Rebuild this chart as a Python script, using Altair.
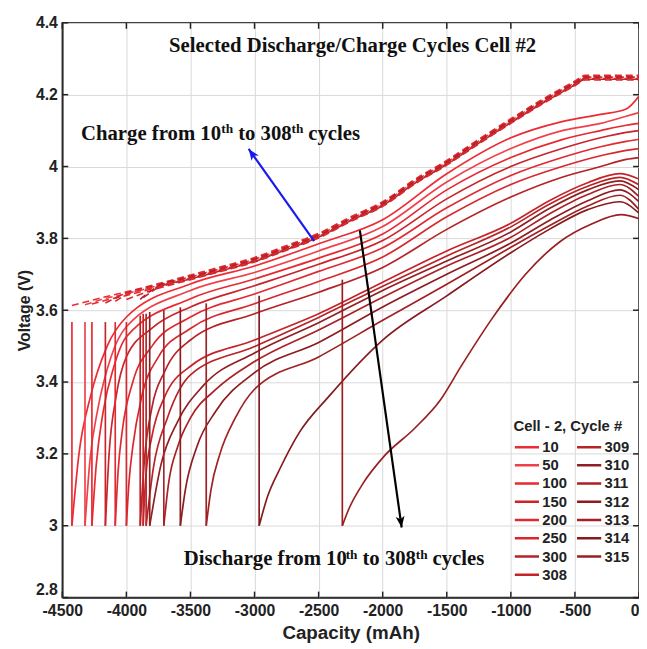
import altair as alt
import pandas as pd

cycles = ["10", "50", "100", "150", "200", "250", "300", "308",
          "309", "310", "311", "312", "313", "314", "315"]
colors = ["#ec2b33", "#f0414a", "#e62a30", "#c9242b", "#e02a30", "#d8282e", "#b52227", "#c42429",
          "#b82326", "#8e1f22", "#a92124", "#8c1c1f", "#a02023", "#861b1e", "#9a1f21"]

# discharge curves (capacity mAh, voltage V)
dis_cap = {
    "10":  [0, -100, -300, -600, -1000, -1500, -2000, -2500, -3000, -3500, -4000, -4150, -4280, -4370, -4425],
    "50":  [0, -100, -300, -600, -1000, -1500, -2000, -2500, -3000, -3500, -4000, -4120, -4220, -4285, -4323],
    "100": [0, -100, -300, -600, -1000, -1500, -2000, -2500, -3000, -3500, -4000, -4100, -4180, -4235, -4269],
    "150": [0, -100, -300, -600, -1000, -1500, -2000, -2500, -3000, -3500, -3800, -4000, -4080, -4135, -4164],
    "200": [0, -100, -300, -600, -1000, -1500, -2000, -2500, -3000, -3500, -3800, -3950, -4030, -4065, -4087],
    "250": [0, -100, -300, -600, -1000, -1500, -2000, -2500, -3000, -3500, -3750, -3880, -3950, -3980, -4000],
    "300": [0, -100, -300, -600, -1000, -1500, -2000, -2500, -3000, -3500, -3700, -3800, -3860, -3892],
    "308": [0, -150, -400, -700, -1000, -1500, -2000, -2500, -3000, -3500, -3700, -3800, -3850, -3869],
    "309": [0, -150, -400, -700, -1000, -1500, -2000, -2500, -3000, -3500, -3680, -3790, -3846],
    "310": [0, -150, -400, -700, -1000, -1500, -2000, -2500, -3000, -3400, -3600, -3730, -3818],
    "311": [0, -150, -400, -700, -1000, -1500, -2000, -2500, -3000, -3300, -3500, -3600, -3670, -3708],
    "312": [0, -150, -400, -700, -1000, -1500, -2000, -2500, -3000, -3300, -3450, -3540, -3579],
    "313": [0, -150, -400, -700, -1000, -1500, -2000, -2500, -3000, -3150, -3270, -3340, -3377],
    "314": [0, -150, -400, -700, -1000, -1500, -2000, -2420, -2650, -2800, -2900, -2964],
    "315": [0, -140, -370, -620, -885, -1140, -1390, -1550, -1754, -1985, -2162, -2260, -2315],
}
dis_volt = {
    "10":  [4.196, 4.160, 4.145, 4.125, 4.080, 3.980, 3.852, 3.785, 3.723, 3.673, 3.581, 3.500, 3.360, 3.200, 3.0],
    "50":  [4.150, 4.140, 4.120, 4.100, 4.050, 3.957, 3.833, 3.765, 3.705, 3.655, 3.554, 3.470, 3.330, 3.180, 3.0],
    "100": [4.120, 4.115, 4.100, 4.075, 4.025, 3.935, 3.812, 3.745, 3.687, 3.632, 3.526, 3.440, 3.320, 3.170, 3.0],
    "150": [4.100, 4.095, 4.080, 4.050, 4.000, 3.910, 3.794, 3.728, 3.668, 3.609, 3.550, 3.470, 3.360, 3.200, 3.0],
    "200": [4.076, 4.070, 4.055, 4.025, 3.975, 3.885, 3.774, 3.708, 3.645, 3.581, 3.500, 3.400, 3.270, 3.150, 3.0],
    "250": [4.050, 4.045, 4.030, 4.000, 3.950, 3.860, 3.748, 3.680, 3.618, 3.549, 3.470, 3.360, 3.220, 3.120, 3.0],
    "300": [4.025, 4.020, 4.000, 3.970, 3.915, 3.825, 3.719, 3.650, 3.590, 3.517, 3.430, 3.330, 3.180, 3.0],
    "308": [3.965, 3.980, 3.955, 3.905, 3.842, 3.765, 3.678, 3.590, 3.517, 3.444, 3.360, 3.250, 3.130, 3.0],
    "309": [3.949, 3.970, 3.945, 3.895, 3.832, 3.751, 3.667, 3.580, 3.499, 3.420, 3.300, 3.160, 3.0],
    "310": [3.935, 3.960, 3.935, 3.883, 3.818, 3.737, 3.655, 3.565, 3.481, 3.390, 3.290, 3.170, 3.0],
    "311": [3.916, 3.950, 3.922, 3.868, 3.803, 3.723, 3.636, 3.545, 3.457, 3.380, 3.300, 3.220, 3.120, 3.0],
    "312": [3.902, 3.935, 3.905, 3.850, 3.787, 3.700, 3.609, 3.510, 3.426, 3.320, 3.220, 3.100, 3.0],
    "313": [3.880, 3.920, 3.890, 3.835, 3.775, 3.672, 3.572, 3.470, 3.380, 3.300, 3.200, 3.100, 3.0],
    "314": [3.870, 3.902, 3.880, 3.825, 3.760, 3.640, 3.517, 3.360, 3.260, 3.160, 3.080, 3.0],
    "315": [3.855, 3.866, 3.840, 3.790, 3.700, 3.580, 3.443, 3.350, 3.270, 3.195, 3.113, 3.050, 3.0],
}
# voltage reached by the vertical jump at the end of each discharge
rest_volt = [3.567, 3.567, 3.567, 3.567, 3.567, 3.567, 3.585, 3.59,
             3.59, 3.595, 3.60, 3.608, 3.619, 3.64, 3.685]

# charge (dashed) curves for cycles 10..308: start point + common path (+ small offset per cycle)
charge_cycles = ["10", "50", "100", "150", "200", "250", "300", "308"]
charge_start_volt = [3.613, 3.615, 3.617, 3.620, 3.625, 3.630, 3.630, 3.635]
charge_offset = [0.0, -0.005, -0.010, -0.003, -0.008, -0.013, -0.006, -0.011]
env_cap = [-4400, -4200, -4000, -3750, -3500, -3250, -3000, -2750, -2500, -2250, -2000,
           -1750, -1500, -1250, -1000, -750, -500, -420, -250, 0]
env_volt = [3.618, 3.634, 3.651, 3.674, 3.698, 3.722, 3.747, 3.780, 3.814, 3.860, 3.902,
            3.964, 4.017, 4.076, 4.133, 4.188, 4.238, 4.254, 4.254, 4.254]

x_ticks = [-4500, -4000, -3500, -3000, -2500, -2000, -1500, -1000, -500, 0]
y_ticks = [2.8, 3.0, 3.2, 3.4, 3.6, 3.8, 4.0, 4.2, 4.4]

# annotation text pieces
ann_text = ["Charge from 10", "th", "to 308", "th", "cycles",
            "Discharge from 10", "th", "to 308", "th", "cycles"]
ann_cap = [-4354, -3259, -3128, -2712, -2581, -3552, -2289, -2158, -1742, -1611]
ann_volt = [4.075, 4.092, 4.075, 4.092, 4.075, 2.890, 2.907, 2.890, 2.907, 2.890]
ann_size = [21, 13.5, 21, 13.5, 21, 21, 13.5, 21, 13.5, 21]

title_text = ["Selected Discharge/Charge Cycles Cell #2"]
title_cap = [-2235]
title_volt = [4.32]

arrow_name = ["blue", "black"]
arrow_cap1 = [-2535, -2178]
arrow_volt1 = [3.792, 3.822]
arrow_cap2 = [-3046, -1852]
arrow_volt2 = [4.049, 2.995]
arrow_angle = [324.6, 172.0]
arrow_color = ["#1a1aee", "#000000"]

# ---------------- build tables ----------------
rows = []
for c in cycles:
    for i, (x, y) in enumerate(zip(dis_cap[c], dis_volt[c])):
        rows.append({"cycle": c, "cap": x, "volt": y, "i": i})
dis_df = pd.DataFrame(rows)

vert_df = pd.DataFrame({
    "cycle": cycles,
    "cap": [dis_cap[c][-1] for c in cycles],
    "v0": [dis_volt[c][-1] for c in cycles],
    "v1": rest_volt,
})

crow = []
for c, vs, off in zip(charge_cycles, charge_start_volt, charge_offset):
    c0 = dis_cap[c][-1]
    crow.append({"cycle": c, "cap": c0, "volt": vs, "i": 0})
    k = 1
    for x, y in zip(env_cap, env_volt):
        if x > c0 + 40:
            crow.append({"cycle": c, "cap": x, "volt": y + off, "i": k})
            k += 1
chg_df = pd.DataFrame(crow)

ann_df = pd.DataFrame({"text": ann_text, "cap": ann_cap, "volt": ann_volt, "size": ann_size})
title_df = pd.DataFrame({"text": title_text, "cap": title_cap, "volt": title_volt})
arrow_df = pd.DataFrame({"name": arrow_name, "c1": arrow_cap1, "v1": arrow_volt1,
                         "c2": arrow_cap2, "v2": arrow_volt2, "angle": arrow_angle,
                         "color": arrow_color})
xt_df = pd.DataFrame({"cap": x_ticks})
yt_df = pd.DataFrame({"volt": y_ticks})

W, H = 584, 582
xs = alt.Scale(domain=[-4500, 0], nice=False, zero=False)
ys = alt.Scale(domain=[2.8, 4.4], nice=False, zero=False)
cs = alt.Scale(domain=cycles, range=colors)

X = alt.X("cap:Q", scale=xs, title="Capacity (mAh)",
          axis=alt.Axis(values=x_ticks, labelExpr="'' + datum.value", grid=True,
                        ticks=False, labelFlush=False, labelPadding=5, titlePadding=5,
                        labelAlign={"condition": {"test": "datum.value == 0", "value": "right"},
                                    "value": "center"},
                        labelFontSize=16, titleFontSize=19))
Y = alt.Y("volt:Q", scale=ys, title="Voltage (V)",
          axis=alt.Axis(values=y_ticks, format="~g", grid=True, ticks=False,
                        labelPadding=5, titlePadding=3,
                        labelBaseline={"condition": {"test": "datum.value < 2.9", "value": "bottom"},
                                       "value": "middle"},
                        labelFontSize=16, titleFontSize=16))

color = alt.Color("cycle:N", scale=cs,
                  legend=alt.Legend(title="Cell - 2, Cycle #", orient="none",
                                    legendX=457, legendY=401, columns=2,
                                    symbolType="stroke", symbolSize=600,
                                    symbolStrokeWidth=2.5, symbolDash=[1, 0],
                                    clipHeight=15, rowPadding=2.5, columnPadding=8,
                                    labelOffset=2, padding=0,
                                    labelFont="Liberation Sans", labelFontSize=15,
                                    labelFontWeight="bold", labelColor="#222",
                                    titleFont="Liberation Sans", titleFontSize=15,
                                    titleFontWeight="bold", titleColor="#222",
                                    titlePadding=6))

dis = alt.Chart(dis_df).mark_line(strokeWidth=1.7, interpolate="monotone").encode(
    x=X, y=Y, color=color, detail="cycle:N", order="i:Q")

vert = alt.Chart(vert_df).mark_rule(strokeWidth=1.7).encode(
    x=alt.X("cap:Q", scale=xs), y=alt.Y("v0:Q", scale=ys), y2="v1:Q",
    color=alt.Color("cycle:N", scale=cs, legend=None))

chg = alt.Chart(chg_df).mark_line(strokeWidth=1.6, strokeDash=[7, 4], interpolate="monotone").encode(
    x=alt.X("cap:Q", scale=xs), y=alt.Y("volt:Q", scale=ys),
    color=alt.Color("cycle:N", scale=cs, legend=None),
    detail="cycle:N", order="i:Q")

arrows = alt.Chart(arrow_df).mark_rule(strokeWidth=2.2).encode(
    x=alt.X("c1:Q", scale=xs), y=alt.Y("v1:Q", scale=ys), x2="c2:Q", y2="v2:Q",
    color=alt.Color("color:N", scale=None))
heads = alt.Chart(arrow_df).mark_point(
    shape="M0,0L0.9,2.3L0,1.7L-0.9,2.3Z", filled=True, size=100, opacity=1).encode(
    x=alt.X("c2:Q", scale=xs), y=alt.Y("v2:Q", scale=ys),
    angle=alt.Angle("angle:Q", scale=None),
    color=alt.Color("color:N", scale=None))

ann = alt.Chart(ann_df).mark_text(align="left", baseline="alphabetic",
                                  font="Liberation Serif", fontWeight="bold",
                                  color="#111").encode(
    x=alt.X("cap:Q", scale=xs), y=alt.Y("volt:Q", scale=ys), text="text:N",
    size=alt.Size("size:Q", scale=None))

ttl = alt.Chart(title_df).mark_text(align="center", baseline="alphabetic",
                                    font="Liberation Serif", fontWeight="bold",
                                    fontSize=21, color="#111").encode(
    x=alt.X("cap:Q", scale=xs), y=alt.Y("volt:Q", scale=ys), text="text:N")

# inner tick marks (MATLAB style box)
xt_b = alt.Chart(xt_df).mark_rule(color="#222", strokeWidth=1.5).encode(
    x=alt.X("cap:Q", scale=xs), y=alt.value(H), y2=alt.value(H - 6))
xt_t = alt.Chart(xt_df).mark_rule(color="#222", strokeWidth=1.5).encode(
    x=alt.X("cap:Q", scale=xs), y=alt.value(0), y2=alt.value(6))
yt_l = alt.Chart(yt_df).mark_rule(color="#222", strokeWidth=1.5).encode(
    y=alt.Y("volt:Q", scale=ys), x=alt.value(0), x2=alt.value(6))
yt_r = alt.Chart(yt_df).mark_rule(color="#222", strokeWidth=1.5).encode(
    y=alt.Y("volt:Q", scale=ys), x=alt.value(W), x2=alt.value(W - 6))

chart = alt.layer(dis, vert, chg, arrows, heads, ann, ttl, xt_b, xt_t, yt_l, yt_r).properties(
    width=W, height=H,
    autosize=alt.AutoSizeParams(type="none"),
    padding={"left": 55, "top": 11, "right": 0, "bottom": 44},
).configure_axis(
    labelFont="Liberation Sans", labelFontWeight="bold", labelColor="#222",
    titleFont="Liberation Sans", titleFontWeight="bold", titleColor="#222",
    gridColor="#d8d8d8", gridWidth=1, domainColor="#222", domainWidth=1.5,
).configure_view(stroke="#222", strokeWidth=1.5)

chart.save("out.html", embed_options={"renderer": "svg", "actions": False})
